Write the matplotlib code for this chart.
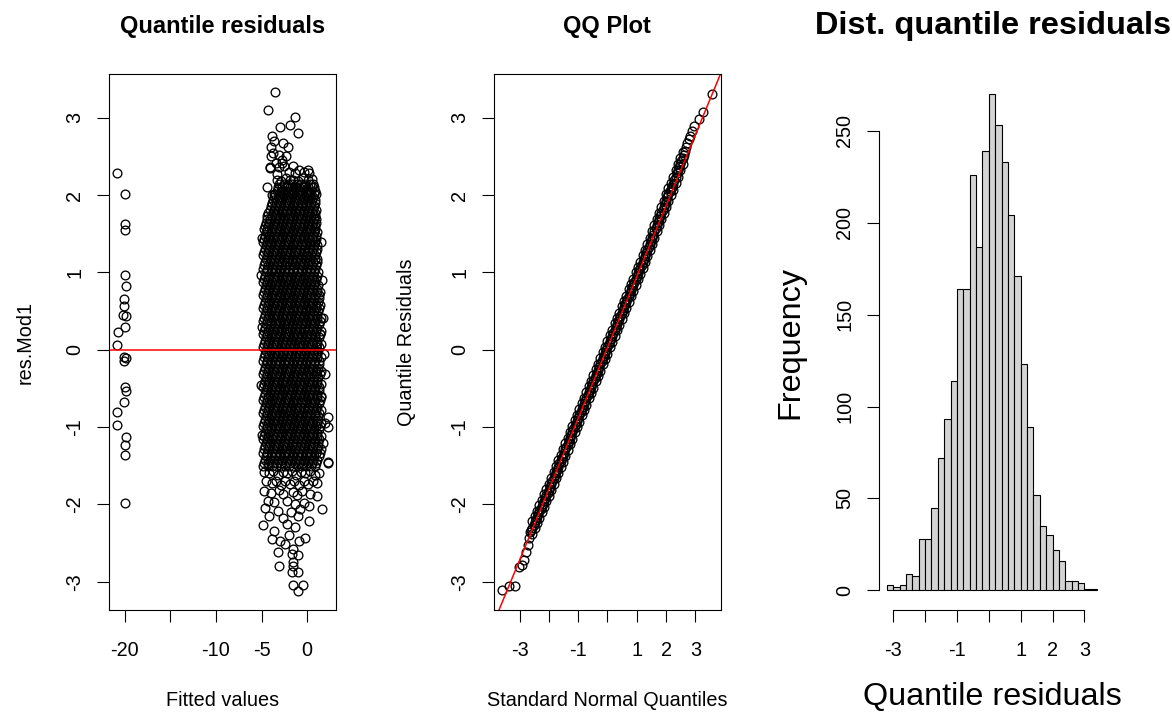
import matplotlib.pyplot as plt

plt.rcParams['font.family'] = ['Liberation Sans', 'DejaVu Sans']
plt.rcParams['axes.unicode_minus'] = False

W, H = 1172, 712

# ---------------- panel 1 : residuals vs fitted ----------------
# the small group of fitted values near -20
low_fit = [-20.78, -19.95, -19.99, -19.92, -19.95, -19.88, -20.08, -20.02, -20.20, -19.90,
           -19.95, -20.70, -20.78, -20.02, -19.88, -20.02, -19.97, -19.88, -20.02, -20.78,
           -20.78, -19.88, -19.95, -19.95, -19.97]
low_res = [2.29, 2.01, 1.63, 1.55, 0.97, 0.82, 0.66, 0.56, 0.45, 0.44,
           0.29, 0.23, 0.06, -0.09, -0.11, -0.14, -0.48, -0.53, -0.67, -0.80,
           -0.97, -1.13, -1.23, -1.36, -1.98]

# main cloud, read row by row (residual level -> fitted values)
cloud_levels = [-1.50, -1.42, -1.33, -1.25, -1.16, -1.08, -0.99, -0.91, -0.82, -0.74,
                -0.65, -0.57, -0.48, -0.40, -0.31, -0.23, -0.14, -0.06, 0.03, 0.11,
                0.20, 0.28, 0.37, 0.45, 0.54, 0.62, 0.71, 0.79, 0.88, 0.96,
                1.05, 1.13, 1.22, 1.30, 1.39, 1.47, 1.56, 1.64, 1.73, 1.81, 1.90,
                1.98, 2.06, 2.14]
cloud_rows = [
    [-4.80, -4.31, -3.86, -3.40, -2.91, -2.44, -1.95, -1.52, -1.01, -0.57, -0.10, 0.38, 0.85],
    [-4.63, -4.12, -3.68, -3.15, -2.72, -2.20, -1.76, -1.25, -0.80, -0.33, 0.15, 0.62, 1.08],
    [-4.86, -4.37, -3.91, -3.44, -2.93, -2.47, -1.99, -1.49, -1.04, -0.54, -0.06, 0.43, 0.91, 1.35],
    [-4.60, -4.15, -3.64, -3.19, -2.68, -2.23, -1.72, -1.28, -0.77, -0.30, 0.18, 0.66, 1.13],
    [-4.88, -4.40, -3.89, -3.41, -2.96, -2.45, -1.97, -1.51, -1.02, -0.56, -0.08, 0.40, 0.89, 1.30],
    [-4.64, -4.13, -3.67, -3.17, -2.71, -2.21, -1.75, -1.26, -0.81, -0.32, 0.16, 0.64, 1.10],
    [-4.84, -4.36, -3.92, -3.43, -2.94, -2.48, -1.96, -1.48, -1.03, -0.53, -0.05, 0.42, 0.92, 1.38],
    [-4.61, -4.16, -3.65, -3.20, -2.69, -2.24, -1.73, -1.27, -0.78, -0.29, 0.19, 0.67, 1.14],
    [-4.87, -4.39, -3.88, -3.40, -2.95, -2.46, -1.98, -1.50, -1.01, -0.55, -0.07, 0.41, 0.88, 1.33],
    [-4.65, -4.14, -3.66, -3.18, -2.70, -2.22, -1.74, -1.24, -0.79, -0.31, 0.17, 0.63, 1.11],
    [-4.85, -4.38, -3.90, -3.42, -2.97, -2.44, -1.97, -1.49, -1.02, -0.54, -0.09, 0.39, 0.90, 1.36],
    [-4.62, -4.12, -3.63, -3.16, -2.72, -2.20, -1.76, -1.27, -0.77, -0.33, 0.15, 0.65, 1.12],
    [-4.89, -4.37, -3.87, -3.44, -2.93, -2.47, -1.95, -1.52, -1.04, -0.56, -0.06, 0.43, 0.87, 1.31],
    [-4.60, -4.16, -3.68, -3.19, -2.68, -2.23, -1.72, -1.25, -0.80, -0.30, 0.18, 0.66, 1.09],
    [-4.83, -4.40, -3.91, -3.41, -2.94, -2.45, -1.99, -1.48, -1.00, -0.53, -0.08, 0.40, 0.91, 1.37],
    [-4.64, -4.13, -3.64, -3.17, -2.71, -2.21, -1.73, -1.28, -0.78, -0.32, 0.16, 0.62, 1.13],
    [-4.86, -4.36, -3.89, -3.43, -2.96, -2.48, -1.96, -1.50, -1.03, -0.55, -0.05, 0.42, 0.89, 1.34],
    [-4.61, -4.15, -3.67, -3.20, -2.69, -2.24, -1.75, -1.26, -0.81, -0.31, 0.19, 0.64, 1.10],
    [-4.88, -4.39, -3.86, -3.40, -2.92, -2.46, -1.97, -1.51, -1.02, -0.57, -0.07, 0.41, 0.92, 1.32],
    [-4.63, -4.14, -3.65, -3.18, -2.70, -2.22, -1.74, -1.27, -0.79, -0.29, 0.17, 0.65, 1.12],
    [-4.84, -4.37, -3.90, -3.42, -2.95, -2.44, -1.98, -1.49, -1.01, -0.54, -0.06, 0.43, 0.88, 1.35],
    [-4.60, -4.12, -3.66, -3.16, -2.72, -2.20, -1.72, -1.25, -0.77, -0.33, 0.15, 0.63, 1.11],
    [-4.87, -4.38, -3.92, -3.44, -2.93, -2.47, -1.95, -1.48, -1.04, -0.56, -0.09, 0.40, 0.90, 1.39],
    [-4.62, -4.16, -3.63, -3.19, -2.68, -2.23, -1.76, -1.28, -0.80, -0.30, 0.18, 0.66, 1.08],
    [-4.85, -4.40, -3.88, -3.41, -2.97, -2.45, -1.96, -1.52, -1.00, -0.55, -0.08, 0.39, 0.91, 1.30],
    [-4.65, -4.13, -3.68, -3.17, -2.71, -2.21, -1.73, -1.24, -0.78, -0.32, 0.16, 0.67, 1.14],
    [-4.89, -4.36, -3.87, -3.43, -2.94, -2.48, -1.99, -1.50, -1.03, -0.53, -0.05, 0.42, 0.87, 1.33],
    [-4.61, -4.15, -3.64, -3.20, -2.69, -2.22, -1.75, -1.27, -0.81, -0.31, 0.19, 0.62, 1.10],
    [-4.83, -4.39, -3.91, -3.40, -2.96, -2.46, -1.97, -1.49, -1.02, -0.57, -0.07, 0.41, 0.89],
    [-4.64, -4.14, -3.65, -3.18, -2.70, -2.24, -1.74, -1.26, -0.79, -0.29, 0.17, 0.64, 1.07],
    [-4.86, -4.37, -3.89, -3.42, -2.92, -2.44, -1.98, -1.51, -1.01, -0.54, -0.06, 0.43, 0.86],
    [-4.60, -4.12, -3.67, -3.17, -2.72, -2.20, -1.72, -1.28, -0.80, -0.30, 0.15, 0.65, 1.05],
    [-4.84, -4.38, -3.86, -3.44, -2.95, -2.47, -1.96, -1.48, -1.04, -0.56, -0.08, 0.40, 0.88],
    [-4.63, -4.16, -3.66, -3.19, -2.68, -2.23, -1.76, -1.25, -0.78, -0.33, 0.18, 0.63, 1.02],
    [-4.80, -4.40, -3.92, -3.41, -2.93, -2.45, -1.95, -1.50, -1.00, -0.55, -0.09, 0.42, 0.85],
    [-4.57, -4.13, -3.64, -3.16, -2.71, -2.21, -1.73, -1.27, -0.77, -0.31, 0.16, 0.66, 1.00],
    [-4.78, -4.35, -3.90, -3.43, -2.96, -2.48, -1.99, -1.49, -1.03, -0.53, -0.06, 0.41, 0.84],
    [-4.55, -4.14, -3.68, -3.20, -2.69, -2.22, -1.74, -1.26, -0.79, -0.32, 0.19, 0.64, 0.98],
    [-4.36, -3.87, -3.40, -2.94, -2.46, -1.97, -1.51, -1.02, -0.54, -0.07, 0.40, 0.86],
    [-4.12, -3.65, -3.18, -2.70, -2.24, -1.75, -1.28, -0.80, -0.30, 0.17, 0.63, 0.95],
    [-3.88, -3.41, -2.95, -2.47, -1.98, -1.50, -1.03, -0.56, -0.08, 0.41, 0.82],
    [-3.62, -3.10, -2.71, -2.20, -1.77, -1.24, -0.79, -0.31, 0.18, 0.66],
    [-3.30, -2.88, -2.42, -1.96, -1.49, -1.00, -0.52, -0.04, 0.44, 0.80],
    [-3.05, -2.57, -2.12, -1.62, -1.15, -0.66, -0.20, 0.30, 0.62],
]

# second pass of the cloud, in between the rows above
cloud_levels_b = [-1.46, -1.37, -1.29, -1.20, -1.12, -1.03, -0.95, -0.86, -0.78, -0.69,
                  -0.61, -0.52, -0.44, -0.35, -0.27, -0.18, -0.10, -0.01, 0.07, 0.16,
                  0.24, 0.33, 0.41, 0.50, 0.58, 0.67, 0.75, 0.84, 0.92, 1.01,
                  1.09, 1.18, 1.26, 1.35, 1.43, 1.52, 1.60, 1.69, 1.77, 1.86,
                  1.94, 2.02, 2.10]
cloud_rows_b = [
    [-4.74, -4.27, -3.77, -3.31, -2.83, -2.33, -1.87, -1.37, -0.91, -0.41, 0.05, 0.55, 1.01],
    [-4.51, -4.01, -3.55, -3.05, -2.59, -2.09, -1.63, -1.13, -0.67, -0.17, 0.31, 0.77, 1.25],
    [-4.73, -4.25, -3.79, -3.29, -2.81, -2.35, -1.85, -1.39, -0.89, -0.43, 0.07, 0.53, 1.03, 1.48],
    [-4.49, -4.03, -3.53, -3.07, -2.57, -2.11, -1.61, -1.15, -0.65, -0.19, 0.29, 0.79, 1.23],
    [-4.75, -4.26, -3.78, -3.30, -2.84, -2.34, -1.86, -1.38, -0.90, -0.42, 0.06, 0.54, 1.02, 1.46],
    [-4.50, -4.02, -3.54, -3.06, -2.58, -2.10, -1.62, -1.14, -0.66, -0.18, 0.30, 0.78, 1.24],
    [-4.72, -4.28, -3.76, -3.32, -2.82, -2.36, -1.84, -1.40, -0.88, -0.44, 0.08, 0.52, 1.04, 1.50],
    [-4.52, -4.00, -3.56, -3.04, -2.60, -2.08, -1.64, -1.12, -0.68, -0.16, 0.28, 0.80, 1.22],
    [-4.76, -4.24, -3.80, -3.28, -2.80, -2.32, -1.88, -1.36, -0.92, -0.40, 0.04, 0.56, 1.00, 1.47],
    [-4.48, -4.04, -3.52, -3.08, -2.56, -2.12, -1.60, -1.16, -0.64, -0.20, 0.32, 0.76, 1.26],
    [-4.74, -4.26, -3.78, -3.30, -2.82, -2.34, -1.86, -1.38, -0.90, -0.42, 0.06, 0.54, 1.02, 1.49],
    [-4.51, -4.02, -3.55, -3.06, -2.59, -2.10, -1.63, -1.14, -0.67, -0.18, 0.31, 0.78, 1.25],
    [-4.73, -4.27, -3.77, -3.31, -2.81, -2.35, -1.85, -1.39, -0.89, -0.43, 0.07, 0.55, 1.03, 1.51],
    [-4.49, -4.01, -3.53, -3.05, -2.57, -2.09, -1.61, -1.13, -0.65, -0.17, 0.29, 0.77, 1.23],
    [-4.75, -4.25, -3.79, -3.29, -2.83, -2.33, -1.87, -1.37, -0.91, -0.41, 0.05, 0.53, 1.01, 1.48],
    [-4.50, -4.03, -3.54, -3.07, -2.58, -2.11, -1.62, -1.15, -0.66, -0.19, 0.30, 0.79, 1.24],
    [-4.72, -4.26, -3.78, -3.30, -2.82, -2.34, -1.86, -1.38, -0.90, -0.42, 0.06, 0.54, 1.02, 1.50],
    [-4.52, -4.02, -3.56, -3.06, -2.60, -2.10, -1.64, -1.14, -0.68, -0.18, 0.28, 0.78, 1.22],
    [-4.76, -4.28, -3.76, -3.32, -2.80, -2.36, -1.84, -1.40, -0.88, -0.44, 0.08, 0.52, 1.04, 1.46],
    [-4.48, -4.00, -3.52, -3.04, -2.56, -2.08, -1.60, -1.12, -0.64, -0.16, 0.32, 0.80, 1.26],
    [-4.74, -4.24, -3.80, -3.28, -2.84, -2.32, -1.88, -1.36, -0.92, -0.40, 0.04, 0.56, 1.00, 1.49],
    [-4.51, -4.04, -3.55, -3.08, -2.59, -2.12, -1.63, -1.16, -0.67, -0.20, 0.31, 0.76, 1.25],
    [-4.73, -4.26, -3.77, -3.30, -2.81, -2.34, -1.85, -1.38, -0.89, -0.42, 0.07, 0.54, 1.03, 1.47],
    [-4.49, -4.02, -3.53, -3.06, -2.57, -2.10, -1.61, -1.14, -0.65, -0.18, 0.29, 0.78, 1.23],
    [-4.75, -4.27, -3.79, -3.31, -2.83, -2.35, -1.87, -1.39, -0.91, -0.43, 0.05, 0.55, 1.01, 1.45],
    [-4.50, -4.01, -3.54, -3.05, -2.58, -2.09, -1.62, -1.13, -0.66, -0.17, 0.30, 0.77, 1.24],
    [-4.72, -4.25, -3.78, -3.29, -2.82, -2.33, -1.86, -1.37, -0.90, -0.41, 0.06, 0.53, 1.02, 1.42],
    [-4.52, -4.03, -3.56, -3.07, -2.60, -2.11, -1.64, -1.15, -0.68, -0.19, 0.28, 0.79, 1.20],
    [-4.76, -4.26, -3.76, -3.30, -2.80, -2.34, -1.84, -1.38, -0.88, -0.42, 0.08, 0.54, 1.00],
    [-4.48, -4.02, -3.52, -3.06, -2.56, -2.10, -1.60, -1.14, -0.64, -0.18, 0.32, 0.78, 1.15],
    [-4.74, -4.28, -3.80, -3.32, -2.84, -2.36, -1.88, -1.40, -0.92, -0.44, 0.04, 0.52, 0.98],
    [-4.51, -4.00, -3.55, -3.04, -2.59, -2.08, -1.63, -1.12, -0.67, -0.16, 0.31, 0.80, 1.12],
    [-4.73, -4.24, -3.77, -3.28, -2.81, -2.32, -1.85, -1.36, -0.89, -0.40, 0.07, 0.56, 0.96],
    [-4.49, -4.04, -3.53, -3.08, -2.57, -2.12, -1.61, -1.16, -0.65, -0.20, 0.29, 0.76, 1.08],
    [-4.70, -4.26, -3.79, -3.30, -2.83, -2.34, -1.87, -1.38, -0.91, -0.42, 0.05, 0.54, 0.93],
    [-4.47, -4.02, -3.54, -3.06, -2.58, -2.10, -1.62, -1.14, -0.66, -0.18, 0.30, 0.78, 1.02],
    [-4.66, -4.25, -3.78, -3.29, -2.82, -2.33, -1.86, -1.37, -0.90, -0.41, 0.06, 0.53, 0.90],
    [-4.44, -4.03, -3.56, -3.07, -2.60, -2.11, -1.64, -1.15, -0.68, -0.19, 0.28, 0.74, 0.97],
    [-4.24, -3.76, -3.30, -2.80, -2.34, -1.84, -1.38, -0.88, -0.42, 0.08, 0.54, 0.88],
    [-4.00, -3.52, -3.06, -2.56, -2.10, -1.60, -1.14, -0.64, -0.18, 0.32, 0.74],
    [-3.76, -3.30, -2.82, -2.34, -1.86, -1.38, -0.90, -0.42, 0.06, 0.54, 0.85],
    [-3.50, -3.04, -2.58, -2.10, -1.62, -1.14, -0.66, -0.18, 0.30, 0.70],
    [-3.20, -2.80, -2.34, -1.86, -1.38, -0.90, -0.42, 0.06, 0.50],
]

# sparser points around the cloud edges
edge_fit = [-3.50, -4.25, -1.34, -1.89, -0.98, -2.98, -3.88, -2.62, -3.70, -2.07,
            -4.07, -2.79, 0.11, -3.34, -1.53, -3.95, -3.60, -2.30, -3.10, -4.00,
            -3.62, -3.15, -2.60, -2.20, -1.70, -1.25, -0.75, -0.20, 0.25, 0.70,
            0.95, -2.90, -2.35, -1.85, -1.05, -0.50, 0.05, 0.50, -3.35, -2.00,
            -1.35, -0.30, 0.20, -0.90, -3.05, -2.55, -1.60, -4.10, -3.40, -2.75,
            -3.90, -4.35,
            -4.70, -4.20, -3.70, -3.20, -2.70, -2.20, -1.70, -1.20, -0.70, -0.20,
            0.30, 0.80, 1.30, -4.50, -3.90, -3.40, -2.90, -2.40, -1.90, -1.40,
            -0.90, -0.40, 0.10, 0.60, 1.10, -4.70, -4.00, -3.10, -2.60, -1.60,
            -1.10, -0.60, 0.30, 1.03, -4.30, -3.60, -2.20, -1.30, -0.30, 0.20,
            -4.60, -3.20, -1.80, -0.80, 1.57, -4.20, -2.70, -1.00, -4.80, -3.63,
            -2.25, -1.34, 0.19, -0.25, -0.87, -2.98, -2.43, -1.59, -0.98, -1.53,
            -1.53, -3.06, -1.05, -1.53, -0.44, -3.16, -1.70, -1.70, -0.98, 2.29,
            -3.90, -2.00,
            2.29, 2.29, 2.29, 1.74, 1.93, 1.60, 1.50, 1.70, 1.55, 1.45,
            1.80, 2.00, -5.05, -5.00, -5.05, -4.98, -5.00]
edge_res = [3.33, 3.10, 3.01, 2.91, 2.80, 2.88, 2.77, 2.68, 2.55, 2.62,
            2.36, 2.42, 2.32, 2.19, 2.19, 2.62, 2.70, 2.50, 2.52, 2.50,
            2.02, 2.08, 2.05, 2.12, 2.03, 2.10, 2.06, 2.12, 2.04, 2.10,
            2.02, 2.18, 2.22, 2.20, 2.18, 2.22, 2.20, 2.21, 2.27, 2.30,
            2.28, 2.30, 2.28, 2.33, 2.36, 2.38, 2.38, 2.35, 2.42, 2.45,
            2.00, 2.10,
            -1.58, -1.60, -1.57, -1.62, -1.58, -1.60, -1.57, -1.62, -1.58, -1.60,
            -1.57, -1.62, -1.60, -1.70, -1.72, -1.70, -1.75, -1.70, -1.74, -1.70,
            -1.75, -1.70, -1.74, -1.70, -1.72, -1.83, -1.85, -1.82, -1.86, -1.84,
            -1.88, -1.83, -1.86, -1.89, -1.95, -1.97, -1.96, -2.00, -1.98, -2.02,
            -2.05, -2.08, -2.10, -2.06, -2.06, -2.15, -2.18, -2.15, -2.27, -2.34,
            -2.25, -2.29, -2.22, -2.43, -2.47, -2.48, -2.51, -2.58, -2.66, -2.74,
            -2.80, -2.80, -3.12, -3.04, -3.04, -2.62, -2.64, -2.88, -2.88, -1.47,
            -2.45, -2.40,
            -0.87, -1.00, -1.45, 0.41, -0.31, 0.90, -0.60, -1.20, 1.40, 0.20,
            -0.05, -0.95, 0.97, 0.30, -0.45, -1.10, 1.45]

# ---------------- panel 2 : QQ plot ----------------
qq_theo = [-3.59, -3.37, -3.14, -3.03, -2.93, -2.85, -2.78, -2.72, -2.67, -2.63,
           -2.60, -2.56, -2.52, -2.48, -2.44, -2.40, -2.36, -2.32, -2.28, -2.24,
           -2.20, -2.16, -2.12, -2.08, -2.04, -2.00, -1.96, -1.92, -1.88, -1.84,
           -1.80, -1.76, -1.72, -1.68, -1.64, -1.60, -1.56, -1.52, -1.48, -1.44,
           -1.40, -1.36, -1.32, -1.28, -1.24, -1.20, -1.16, -1.12, -1.08, -1.04,
           -1.00, -0.96, -0.92, -0.88, -0.84, -0.80, -0.76, -0.72, -0.68, -0.64,
           -0.60, -0.56, -0.52, -0.48, -0.44, -0.40, -0.36, -0.32, -0.28, -0.24,
           -0.20, -0.16, -0.12, -0.08, -0.04, 0.00, 0.04, 0.08, 0.12, 0.16,
           0.20, 0.24, 0.28, 0.32, 0.36, 0.40, 0.44, 0.48, 0.52, 0.56,
           0.60, 0.64, 0.68, 0.72, 0.76, 0.80, 0.84, 0.88, 0.92, 0.96,
           1.00, 1.04, 1.08, 1.12, 1.16, 1.20, 1.24, 1.28, 1.32, 1.36,
           1.40, 1.44, 1.48, 1.52, 1.56, 1.60, 1.64, 1.68, 1.72, 1.76,
           1.80, 1.84, 1.88, 1.92, 1.96, 2.00, 2.04, 2.08, 2.12, 2.16,
           2.20, 2.24, 2.28, 2.32, 2.36, 2.40, 2.44, 2.48, 2.52, 2.56,
           2.60, 2.64, 2.68, 2.72, 2.77, 2.82, 2.88, 2.96, 3.13, 3.27, 3.57]
qq_samp = [-3.11, -3.06, -3.05, -2.81, -2.78, -2.72, -2.62, -2.53, -2.43, -2.36,
           -2.33, -2.30, -2.27, -2.23, -2.20, -2.16, -2.13, -2.09, -2.06, -2.02,
           -1.99, -1.95, -1.92, -1.88, -1.85, -1.81, -1.77, -1.74, -1.70, -1.66,
           -1.62, -1.58, -1.55, -1.51, -1.47, -1.44, -1.40, -1.37, -1.33, -1.29,
           -1.26, -1.22, -1.18, -1.14, -1.10, -1.07, -1.03, -0.99, -0.96, -0.92,
           -0.88, -0.85, -0.81, -0.77, -0.74, -0.70, -0.66, -0.63, -0.59, -0.55,
           -0.52, -0.48, -0.44, -0.41, -0.37, -0.33, -0.30, -0.26, -0.22, -0.19,
           -0.15, -0.11, -0.08, -0.04, 0.00, 0.03, 0.07, 0.11, 0.14, 0.18,
           0.22, 0.26, 0.29, 0.33, 0.37, 0.40, 0.44, 0.48, 0.51, 0.55,
           0.59, 0.62, 0.66, 0.70, 0.73, 0.77, 0.81, 0.84, 0.88, 0.92,
           0.95, 0.99, 1.03, 1.06, 1.10, 1.14, 1.18, 1.21, 1.25, 1.29,
           1.33, 1.37, 1.41, 1.45, 1.49, 1.53, 1.57, 1.61, 1.65, 1.69,
           1.73, 1.77, 1.81, 1.85, 1.89, 1.93, 1.97, 2.01, 2.05, 2.08,
           2.11, 2.15, 2.19, 2.24, 2.28, 2.32, 2.36, 2.40, 2.44, 2.48,
           2.52, 2.57, 2.62, 2.67, 2.72, 2.77, 2.83, 2.89, 2.99, 3.08, 3.31]

# the band is wider than one marker: its upper and lower edges
band_theo = [-2.56, -2.48, -2.40, -2.32, -2.24, -2.16, -2.08, -2.00, -1.92, -1.84,
             -1.76, -1.68, -1.60, -1.52, -1.44, -1.36, -1.28, -1.20, -1.12, -1.04,
             -0.96, -0.88, -0.80, -0.72, -0.64, -0.56, -0.48, -0.40, -0.32, -0.24,
             -0.16, -0.08, 0.00, 0.08, 0.16, 0.24, 0.32, 0.40, 0.48, 0.56,
             0.64, 0.72, 0.80, 0.88, 0.96, 1.04, 1.12, 1.20, 1.28, 1.36,
             1.44, 1.52, 1.60, 1.68, 1.76, 1.84, 1.92, 2.00, 2.08, 2.16,
             2.24, 2.32, 2.40, 2.48, 2.56]
band_upper = [-2.22, -2.15, -2.08, -2.01, -1.94, -1.87, -1.80, -1.73, -1.66, -1.58,
              -1.50, -1.43, -1.36, -1.29, -1.21, -1.14, -1.06, -0.99, -0.91, -0.84,
              -0.77, -0.69, -0.62, -0.55, -0.47, -0.40, -0.33, -0.25, -0.18, -0.11,
              -0.03, 0.04, 0.11, 0.19, 0.26, 0.34, 0.41, 0.48, 0.56, 0.63,
              0.70, 0.78, 0.85, 0.92, 1.00, 1.07, 1.14, 1.22, 1.29, 1.37,
              1.45, 1.53, 1.61, 1.69, 1.77, 1.85, 1.93, 2.01, 2.09, 2.16,
              2.23, 2.32, 2.40, 2.48, 2.56]
band_lower = [-2.38, -2.31, -2.24, -2.17, -2.10, -2.03, -1.96, -1.89, -1.82, -1.74,
              -1.66, -1.59, -1.52, -1.45, -1.37, -1.30, -1.22, -1.15, -1.07, -1.00,
              -0.93, -0.85, -0.78, -0.71, -0.63, -0.56, -0.49, -0.41, -0.34, -0.27,
              -0.19, -0.12, -0.05, 0.03, 0.10, 0.18, 0.25, 0.32, 0.40, 0.47,
              0.54, 0.62, 0.69, 0.76, 0.84, 0.91, 0.98, 1.06, 1.13, 1.21,
              1.29, 1.37, 1.45, 1.53, 1.61, 1.69, 1.77, 1.85, 1.93, 2.00,
              2.07, 2.16, 2.24, 2.32, 2.40]
qq_intercept = 0.03
qq_slope = 0.918

# ---------------- panel 3 : histogram ----------------
bin_left = [-3.2, -3.0, -2.8, -2.6, -2.4, -2.2, -2.0, -1.8, -1.6, -1.4, -1.2,
            -1.0, -0.8, -0.6, -0.4, -0.2, 0.0, 0.2, 0.4, 0.6, 0.8, 1.0,
            1.2, 1.4, 1.6, 1.8, 2.0, 2.2, 2.4, 2.6, 2.8, 3.0, 3.2]
counts = [3, 2, 3, 9, 8, 28, 28, 45, 72, 93, 114,
          164, 164, 226, 187, 239, 270, 253, 233, 204, 171, 123,
          89, 52, 35, 30, 22, 16, 5, 5, 4, 1, 1]


def box(px_left):
    return [px_left / W, (H - 610.3) / H, 227 / W, 536.3 / H]


fig = plt.figure(figsize=(W / 100, H / 100), dpi=100)

tick_kw = dict(direction='out', length=8.6, width=0.8, labelsize=14.3, color='black')
pt_kw = dict(linestyle='none', marker='o', mfc='none', mec='black', ms=6.3, mew=0.95)

# panel 1
ax1 = fig.add_axes(box(108.7))
ax1.plot(low_fit, low_res, **pt_kw)
for lev, row in zip(cloud_levels + cloud_levels_b, cloud_rows + cloud_rows_b):
    ax1.plot(row, [lev] * len(row), **pt_kw)
ax1.plot(edge_fit, edge_res, **pt_kw)
ax1.axhline(0, color='red', lw=1.1)
ax1.set_xlim(-21.74, 3.12)
ax1.set_ylim(-3.37, 3.567)
ax1.set_xticks([-20, -15, -10, -5, 0])
ax1.set_xticklabels(['-20', '', '-10', '-5', '0'])

# panel 2
ax2 = fig.add_axes(box(493.7))
ax2.plot(band_theo, band_upper, **pt_kw)
ax2.plot(band_theo, band_lower, **pt_kw)
ax2.plot(qq_theo, qq_samp, **pt_kw)
ax2.axline((0, qq_intercept), slope=qq_slope, color='red', lw=1.1)
ax2.set_xlim(-3.88, 3.86)
ax2.set_ylim(-3.37, 3.567)
ax2.set_xticks([-3, -2, -1, 0, 1, 2, 3])
ax2.set_xticklabels(['-3', '', '-1', '', '1', '2', '3'])

for ax in (ax1, ax2):
    ax.set_yticks([-3, -2, -1, 0, 1, 2, 3])
    for s in ax.spines.values():
        s.set_linewidth(0.8)

# panel 3
ax3 = fig.add_axes(box(878.5))
ax3.bar(bin_left, counts, width=0.2, align='edge', color='#d3d3d3',
        edgecolor='black', linewidth=0.8)
ax3.set_xlim(-3.464, 3.664)
ax3.set_ylim(-10.8, 280.8)
ax3.set_xticks([-3, -2, -1, 0, 1, 2, 3])
ax3.set_xticklabels(['-3', '', '-1', '', '1', '2', '3'])
ax3.set_yticks([0, 50, 100, 150, 200, 250])
ax3.spines['top'].set_visible(False)
ax3.spines['right'].set_visible(False)
ax3.spines['left'].set_bounds(0, 250)
ax3.spines['bottom'].set_bounds(-3, 3)
ax3.spines['left'].set_linewidth(0.8)
ax3.spines['bottom'].set_linewidth(0.8)

for ax in (ax1, ax2, ax3):
    ax.tick_params(axis='x', pad=13.5, **tick_kw)
    ax.tick_params(axis='y', pad=9, labelrotation=90, **tick_kw)
    for lab in ax.get_yticklabels():
        lab.set_va('center')

# titles and axis labels (pixel positions from the reference)
def put(px, py, s, **kw):
    fig.text(px / W, 1 - py / H, s, **kw)

put(222.2, 32.5, 'Quantile residuals', ha='center', va='baseline', fontsize=17, fontweight='bold')
put(607.2, 32.5, 'QQ Plot', ha='center', va='baseline', fontsize=17, fontweight='bold')
put(993.0, 34.3, 'Dist. quantile residuals', ha='center', va='baseline', fontsize=23.4, fontweight='bold')

put(222.2, 706, 'Fitted values', ha='center', va='baseline', fontsize=14.3)
put(607.2, 706, 'Standard Normal Quantiles', ha='center', va='baseline', fontsize=14.3)
put(992.0, 705, 'Quantile residuals', ha='center', va='baseline', fontsize=23.3)

put(25, 342, 'res.Mod1', ha='center', va='center', rotation=90, fontsize=14.3)
put(406, 342, 'Quantile Residuals', ha='center', va='center', rotation=90, fontsize=14.3)
put(790, 342, 'Frequency', ha='center', va='center', rotation=90, fontsize=23.3)

fig.savefig('out.png', dpi=100)
